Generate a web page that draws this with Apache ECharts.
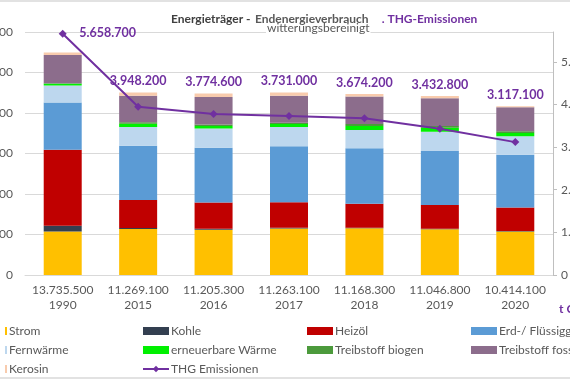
<!DOCTYPE html>
<html><head><meta charset="utf-8">
<script src="https://cdn.jsdelivr.net/npm/echarts@6/dist/echarts.min.js"></script>
<style>html,body{margin:0;padding:0;background:#fff}#c{width:570px;height:380px}</style>
</head><body><div id="c"></div>
<script>
const years = ['1990','2015','2016','2017','2018','2019','2020'];
const totals = [13735500, 11269100, 11205300, 11263100, 11168300, 11046800, 10414100];
const strom      = [2690000, 2840000, 2800000, 2870000, 2883000, 2821000, 2680000];
const kohle      = [355000, 62000, 50000, 50000, 40000, 40000, 30000];
const heizoel    = [4690000, 1728000, 1630000, 1575000, 1481000, 1457000, 1450000];
const erdgas     = [2910000, 3352000, 3370000, 3460000, 3414000, 3333000, 3260000];
const fernwaerme = [1050000, 1154000, 1190000, 1185000, 1130000, 1198000, 1140000];
const ernWaerme  = [125000, 204000, 160000, 185000, 247000, 247000, 205000];
const biogen     = [0, 93000, 86000, 80000, 123000, 99000, 105000];
const fossil     = [1765000, 1632000, 1709000, 1655000, 1704000, 1710000, 1482000];
const kerosin    = [150000, 204000, 210000, 203000, 146000, 142000, 62000];
const thg        = [5658700, 3948200, 3774600, 3731000, 3674200, 3432800, 3117100];

const fmt = v => String(v).replace(/\B(?=(\d{3})+(?!\d))/g, '.');
const FONT = 'Lato';
const GRAY = '#595959';

const barDefs = [
  ['Strom', strom, '#FFC000'],
  ['Kohle', kohle, '#333F50'],
  ['Heizöl', heizoel, '#C00000'],
  ['Erd-/ Flüssiggas', erdgas, '#5B9BD5'],
  ['Fernwärme', fernwaerme, '#BDD7EE'],
  ['erneuerbare Wärme', ernWaerme, '#00F000'],
  ['Treibstoff biogen', biogen, '#4C9A3C'],
  ['Treibstoff fossil', fossil, '#8C6D8C'],
  ['Kerosin', kerosin, '#F8CBAD']
];

const series = barDefs.map(([name, data, color]) => {
  const s = {
    name, type: 'bar', stack: 'e', yAxisIndex: 0, barWidth: 38,
    itemStyle: { color }, data: data.slice(), z: 2
  };
  if (name === 'Kerosin') {
    s.data = data.map((v, j) => j === 0 ? { value: v, label: { offset: [45, -8] } } : v);
    s.label = {
      show: true, position: 'top', distance: 5,
      formatter: p => fmt(thg[p.dataIndex]),
      color: '#7030A0', fontWeight: 'bold', fontSize: 12.5, fontFamily: FONT
    };
  }
  return s;
});
series.push({
  name: 'THG Emissionen', type: 'line', yAxisIndex: 1, data: thg,
  symbol: 'diamond', symbolSize: 8, z: 5,
  lineStyle: { color: '#7030A0', width: 2 }, itemStyle: { color: '#7030A0' }
});

const legendCol = (data, left, w) => ({
  orient: 'vertical', left, top: 320, itemWidth: w || 26, itemHeight: 8, itemGap: 7,
  data: data.map(n => n === 'THG Emissionen' ? { name: n } : { name: n, icon: 'rect' }),
  textStyle: { color: GRAY, fontSize: 12, fontFamily: FONT, padding: [0, 0, 0, -3] },
  selectedMode: false
});

const option = {
  animation: false,
  textStyle: { fontFamily: FONT },
  title: [
    {
      left: 166, top: 5,
      text: '{b|Energieträger -} {n|Endenergieverbrauch}   {p|. THG-Emissionen}',
      textStyle: { rich: {
        b: { fontWeight: 'bold', color: '#404040', fontSize: 12, fontFamily: FONT },
        n: { color: GRAY, fontSize: 12, fontFamily: FONT },
        p: { color: '#7030A0', fontSize: 12, fontFamily: FONT }
      } }
    },
    {
      left: 266, top: 21, text: 'witterungsbereinigt', backgroundColor: '#fff', padding: [1, 1, 0, 1],
      textStyle: { color: GRAY, fontSize: 12, fontWeight: 'normal', fontFamily: FONT }
    }
  ],
  grid: { left: 25, right: 17, top: 32, bottom: 105, outerBoundsMode: 'none', containLabel: false },
  legend: [
    legendCol(['Strom', 'Fernwärme', 'Kerosin'], 0, 2),
    legendCol(['Kohle', 'erneuerbare Wärme', 'THG Emissionen'], 137),
    legendCol(['Heizöl', 'Treibstoff biogen'], 302),
    legendCol(['Erd-/ Flüssiggas', 'Treibstoff fossil'], 466)
  ],
  xAxis: {
    type: 'category', data: years,
    axisLine: { lineStyle: { color: '#D9D9D9' } }, axisTick: { show: false },
    axisLabel: {
      interval: 0, hideOverlap: false,
      color: GRAY, fontSize: 12, lineHeight: 15, margin: 8, fontFamily: FONT,
      formatter: (v, i) => fmt(totals[i]) + '\n' + v
    }
  },
  yAxis: [
    {
      type: 'value', min: 0, max: 15000000, interval: 2500000,
      axisLine: { show: false }, axisTick: { show: false },
      splitLine: { lineStyle: { color: '#D9D9D9' } },
      axisLabel: { color: GRAY, fontSize: 12, margin: 12, formatter: v => fmt(v), fontFamily: FONT }
    },
    {
      type: 'value', min: 0, max: 5700000, interval: 1000000, position: 'right',
      axisLine: { show: true, lineStyle: { color: '#BFBFBF' } },
      axisTick: { show: true, length: 4, lineStyle: { color: '#BFBFBF' } },
      splitLine: { show: false },
      axisLabel: { color: GRAY, fontSize: 12, margin: 8, showMaxLabel: false, formatter: v => fmt(v), fontFamily: FONT }
    }
  ],
  graphic: [
    { type: 'line', shape: { x1: 0, y1: 1, x2: 570, y2: 1 }, style: { stroke: '#D9D9D9', lineWidth: 1.5 } },
    { type: 'line', shape: { x1: 0, y1: 378, x2: 570, y2: 378 }, style: { stroke: '#D9D9D9', lineWidth: 1.5 } },
    { type: 'text', x: 559, y: 303, style: { text: 't CO₂', fill: '#7030A0', font: 'bold 12px Lato' } }
  ],
  series
};
echarts.init(document.getElementById('c'), null, { renderer: 'canvas' }).setOption(option);
</script></body></html>
